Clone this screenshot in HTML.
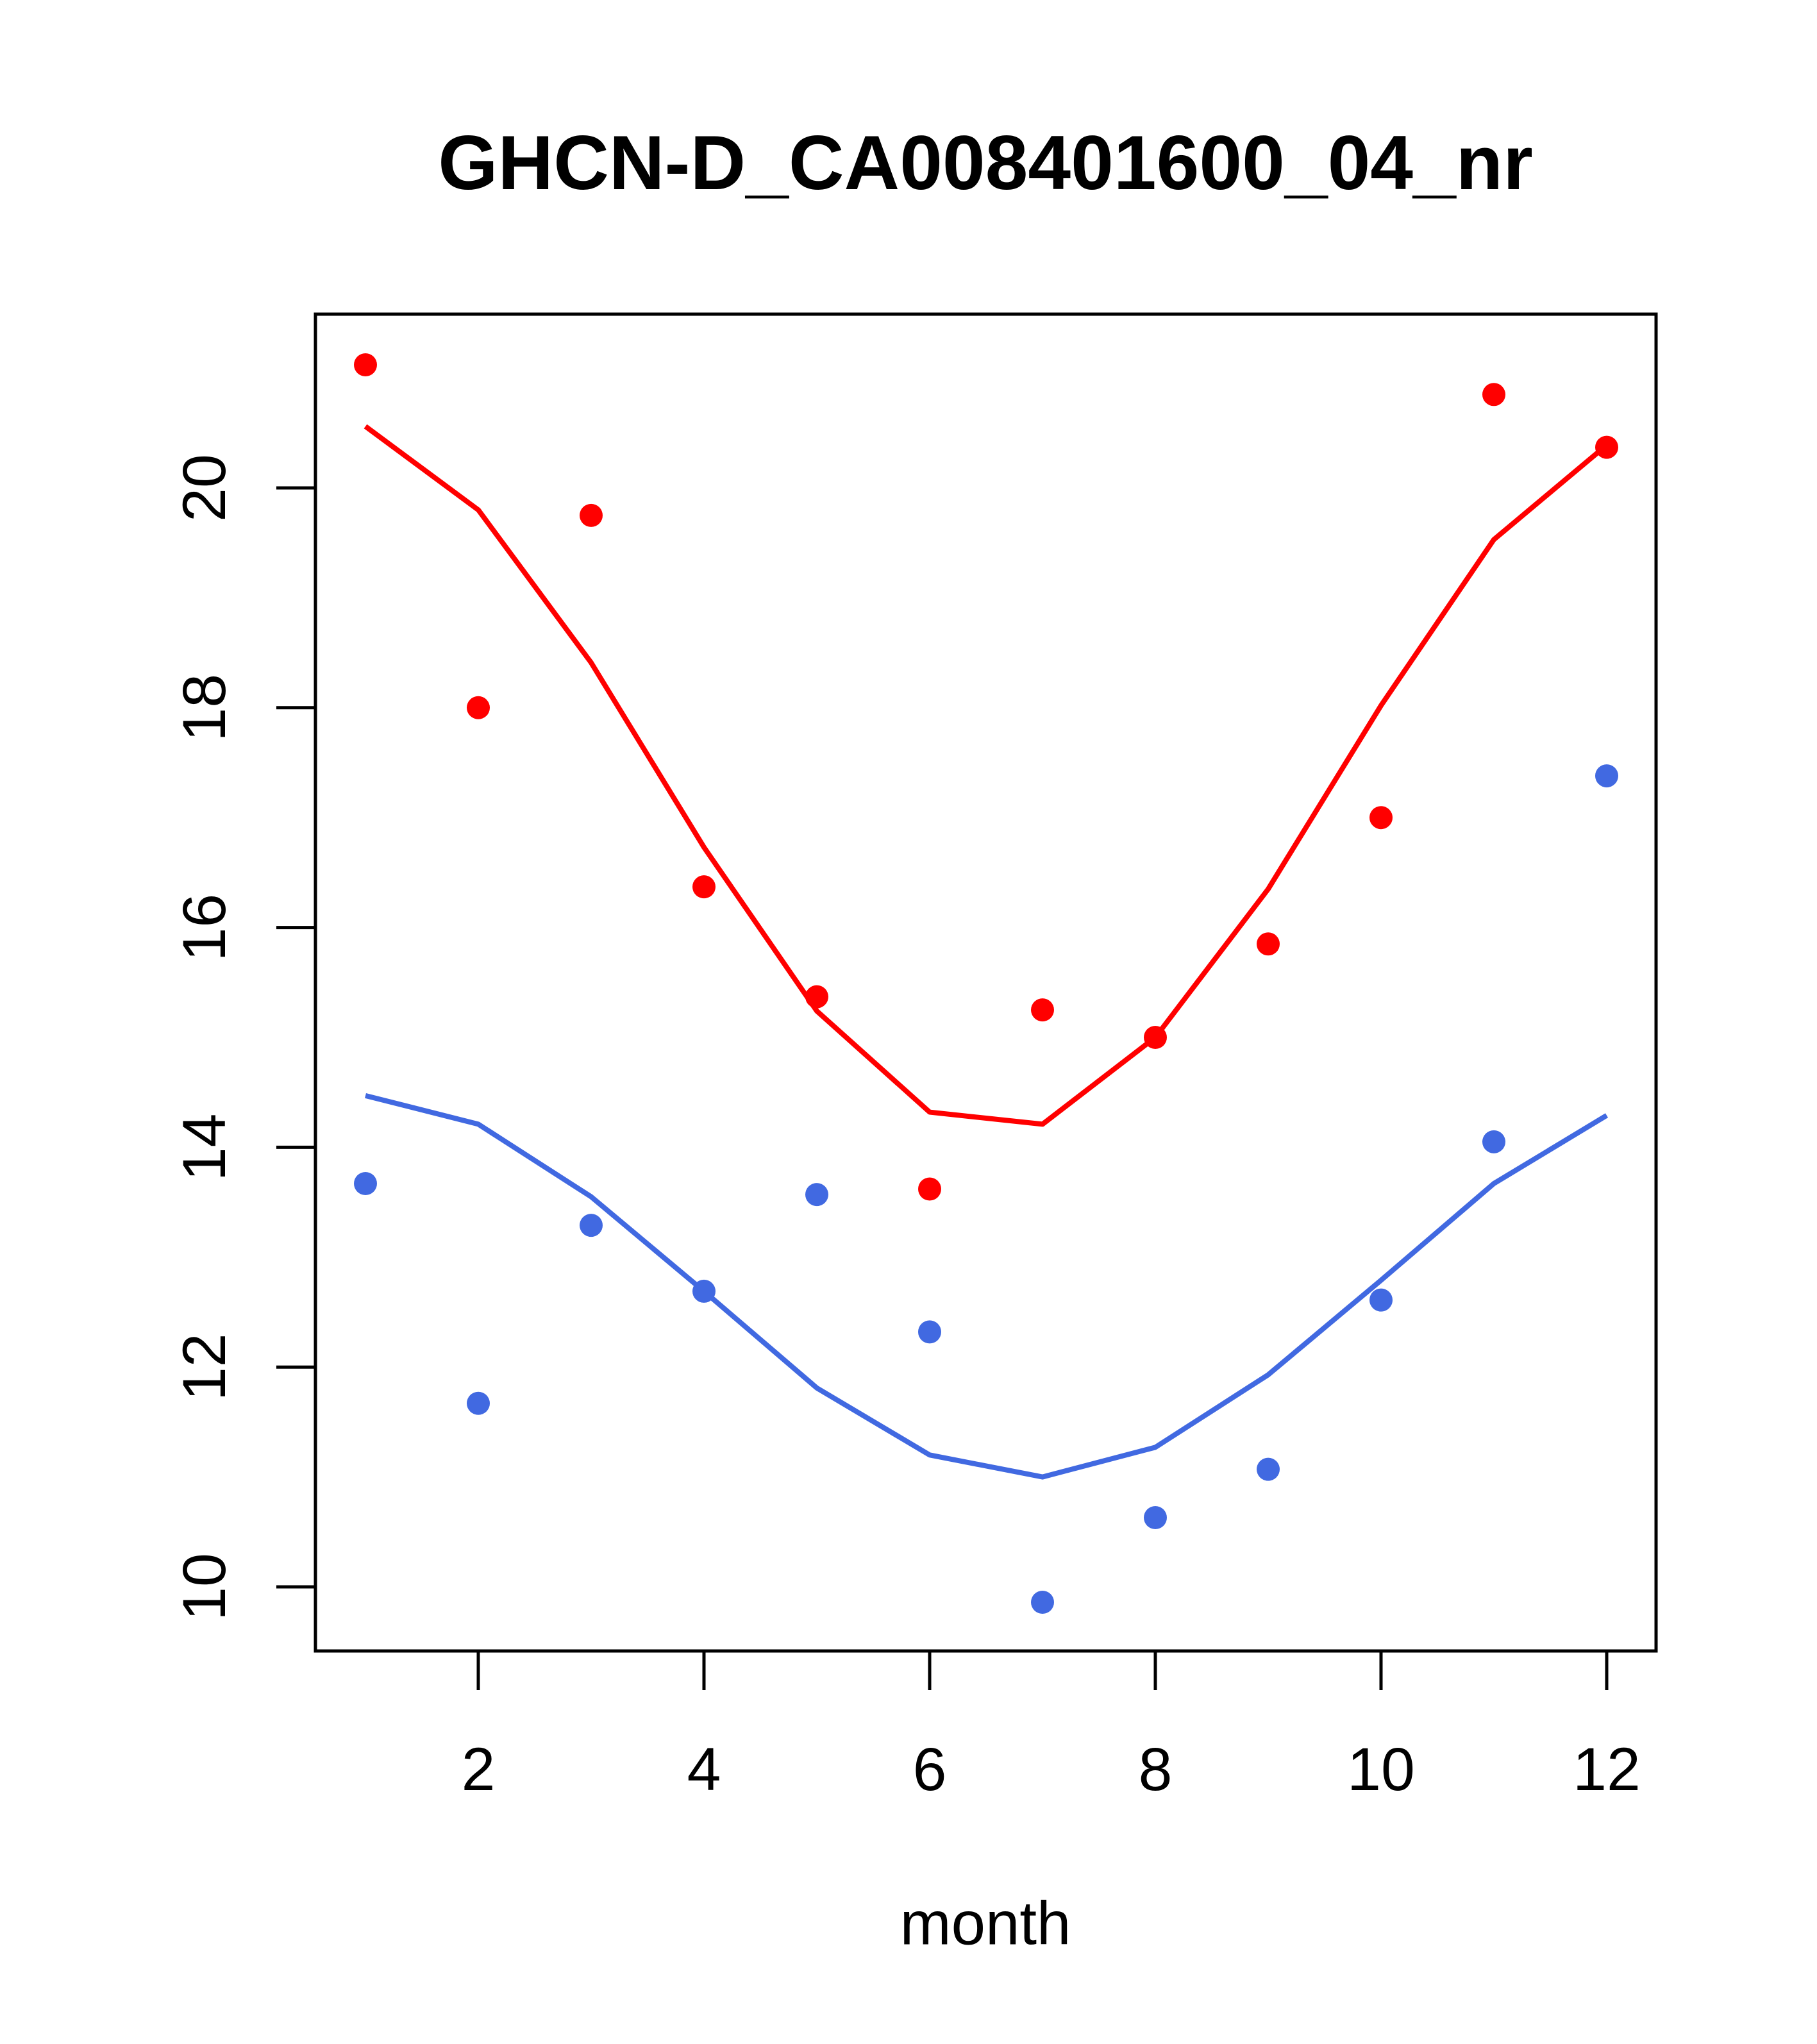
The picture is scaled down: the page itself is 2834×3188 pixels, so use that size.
<!DOCTYPE html>
<html><head><meta charset="utf-8"><style>
html,body{margin:0;padding:0;background:#fff;}
svg{display:block;font-family:"Liberation Sans",Arial,sans-serif;}
</style></head><body>
<svg id="chart" width="2834" height="3188" viewBox="0 0 2834 3188" xmlns="http://www.w3.org/2000/svg">
<rect width="2834" height="3188" fill="#fff"/>
<text x="1537" y="254" font-size="120" font-weight="bold" text-anchor="middle" dominant-baseline="central">GHCN-D_CA008401600_04_nr</text>
<rect x="492" y="490" width="2091" height="2085" fill="none" stroke="#000" stroke-width="5"/>
<text x="1537" y="3000" font-size="96" text-anchor="middle" dominant-baseline="central">month</text>
<g id="axes"></g>
<g id="series"></g>
</svg>
<script>
const months = [1,2,3,4,5,6,7,8,9,10,11,12];
const redPoints = [21.12,18.0,19.75,16.37,15.37,13.62,15.25,15.0,15.85,17.0,20.85,20.37];
const redLine = [20.56,19.8,18.41,16.73,15.24,14.32,14.21,15.0,16.35,18.02,19.53,20.39];
const bluePoints = [13.67,11.67,13.29,12.69,13.57,12.32,9.86,10.63,11.07,12.61,14.05,17.38];
const blueLine = [14.47,14.21,13.55,12.69,11.81,11.2,11.0,11.27,11.93,12.79,13.67,14.29];
const xTicks = [2,4,6,8,10,12];
const yTicks = [10,12,14,16,18,20];

const NS = "http://www.w3.org/2000/svg";
function xs(m){ return 746 + (m-2)*176; }
function ys(v){ return 2475 - (v-10)*171.4; }
function mk(tag, attrs, parent){
  const e = document.createElementNS(NS, tag);
  for (const k in attrs) e.setAttribute(k, attrs[k]);
  parent.appendChild(e);
  return e;
}
const axes = document.getElementById('axes');
const series = document.getElementById('series');

mk('line',{x1:xs(2),x2:xs(12),y1:2575,y2:2575,stroke:'#000','stroke-width':5},axes);
mk('line',{x1:492,x2:492,y1:ys(10),y2:ys(20),stroke:'#000','stroke-width':5},axes);
xTicks.forEach(t=>{
  const l = mk('line',{x1:xs(t),x2:xs(t),y1:2575,y2:2636,stroke:'#000','stroke-width':5},axes);
  
  
  const tx = mk('text',{x:xs(t),y:2760,'font-size':95,'text-anchor':'middle','dominant-baseline':'central'},axes);
  tx.textContent = t;
  
  
});
yTicks.forEach(t=>{
  const l = mk('line',{x1:431,x2:492,y1:ys(t),y2:ys(t),stroke:'#000','stroke-width':5},axes);
  
  
  const tx = mk('text',{x:319,y:ys(t),'font-size':95,'text-anchor':'middle','dominant-baseline':'central',transform:'rotate(-90 319 '+ys(t)+')'},axes);
  tx.textContent = t;
  
  
});

function drawLine(vals, color, name){
  const pts = vals.map((v,i)=>xs(months[i])+','+ys(v)).join(' ');
  const p = mk('polyline',{points:pts,fill:'none',stroke:color,'stroke-width':8,'stroke-linejoin':'round'},series);
  
  
}
function drawPoints(vals, color, name){
  vals.forEach((v,i)=>{
    const c = mk('circle',{cx:xs(months[i]),cy:ys(v),r:18,fill:color},series);
    
    
  });
}
drawLine(redLine,'#ff0000','red-line');
drawLine(blueLine,'#4169e1','blue-line');
drawPoints(redPoints,'#ff0000','red-point');
drawPoints(bluePoints,'#4169e1','blue-point');
</script>
</body></html>
